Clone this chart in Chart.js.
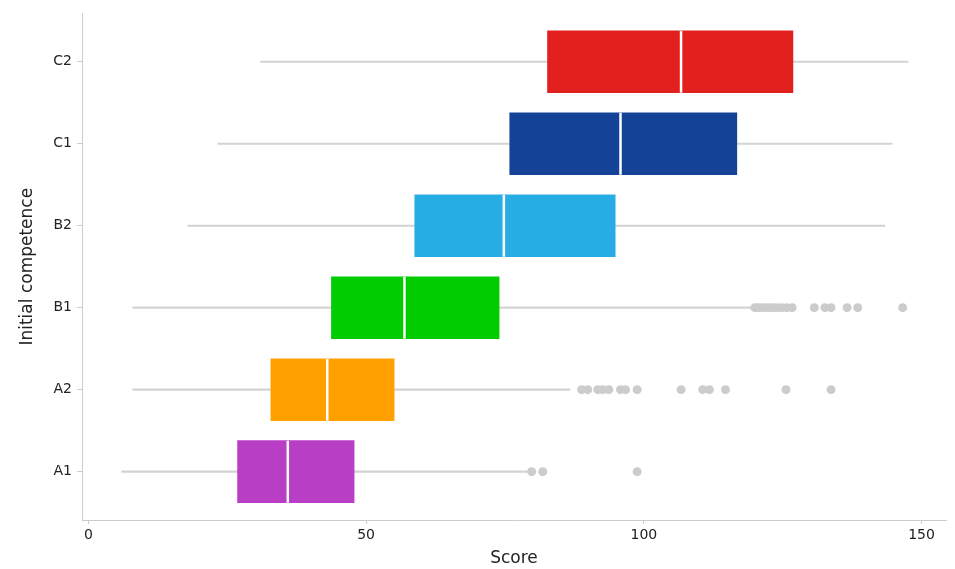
<!DOCTYPE html>
<html>
<head>
<meta charset="utf-8">
<script src="https://cdn.jsdelivr.net/npm/chart.js@4.4.1/dist/chart.umd.min.js"></script>
<style>
  html, body { margin: 0; padding: 0; background: #fff; }
  #wrap { width: 955px; height: 569px; }
</style>
</head>
<body>
<div id="wrap"><canvas id="myChart" width="955" height="569"></canvas></div>
<script>
// categories, bottom to top
var categories = ['A1', 'A2', 'B1', 'B2', 'C1', 'C2'];
var colors = ['#b93ec6', '#ffa000', '#00cc00', '#26ade3', '#134296', '#e2211e'];

// box plot stats
var whiskerLow  = [6.0, 8.0, 8.0, 17.9, 23.3, 31.0];
var q1          = [26.8, 32.8, 43.7, 58.7, 75.8, 82.6];
var median      = [35.9, 43.0, 56.9, 74.8, 95.8, 106.7];
var q3          = [47.9, 55.1, 74.0, 94.9, 116.8, 126.9];
var whiskerHigh = [79.0, 86.7, 119.6, 143.4, 144.7, 147.6];

// outliers per category
var outliersA1 = [79.8, 81.8, 98.8];
var outliersA2 = [88.8, 89.9, 91.7, 92.6, 93.7, 95.8, 96.7, 98.8, 106.7, 110.6, 111.8, 114.7, 125.6, 133.7];
var outliersB1 = [120.0, 120.6, 121.2, 122.0, 122.7, 123.4, 124.2, 125.0, 125.8, 126.7, 130.7, 132.6, 133.7, 136.6, 138.5, 146.6];

var xTicks = [0, 50, 100, 150];

var outlierPoints = [];
outliersA1.forEach(function (v) { outlierPoints.push({ x: v, y: 0 }); });
outliersA2.forEach(function (v) { outlierPoints.push({ x: v, y: 1 }); });
outliersB1.forEach(function (v) { outlierPoints.push({ x: v, y: 2 }); });

var whiskerData = categories.map(function (c, i) { return { y: i, x: [whiskerLow[i], whiskerHigh[i]] }; });
var boxData = categories.map(function (c, i) { return { y: i, x: [q1[i], q3[i]] }; });
var medianData = categories.map(function (c, i) { return { y: i, x: median[i] }; });

var fontFamily = "'DejaVu Sans', sans-serif";
var ctx = document.getElementById('myChart').getContext('2d');
var chart = new Chart(ctx, {
  type: 'bar',
  data: {
    datasets: [
      {
        type: 'scatter',
        data: outlierPoints,
        backgroundColor: '#cccccc',
        borderWidth: 0,
        pointRadius: 4.5,
        order: 1
      },
      {
        type: 'scatter',
        data: medianData,
        pointStyle: 'line',
        rotation: 90,
        pointRadius: 31,
        borderColor: '#ffffff',
        borderWidth: 2.5,
        order: 2
      },
      {
        data: boxData,
        backgroundColor: colors,
        borderWidth: 0,
        grouped: false,
        categoryPercentage: 1,
        barPercentage: 0.763,
        order: 3
      },
      {
        data: whiskerData,
        backgroundColor: '#d3d3d3',
        borderWidth: 0,
        grouped: false,
        barThickness: 1.5,
        order: 4
      }
    ]
  },
  options: {
    indexAxis: 'y',
    responsive: false,
    animation: false,
    layout: { autoPadding: false, padding: { top: 12, right: 9, left: 0, bottom: 0 } },
    plugins: {
      legend: { display: false },
      tooltip: { enabled: false }
    },
    scales: {
      x: {
        type: 'linear',
        min: -1.15,
        max: 154.4,
        afterBuildTicks: function (scale) {
          scale.ticks = xTicks.map(function (v) { return { value: v }; });
        },
        afterFit: function (scale) { scale.height = 49; },
        grid: { display: true, drawOnChartArea: false, color: '#cccccc', tickLength: 4 },
        border: { color: '#cccccc', width: 1 },
        ticks: { color: '#222', padding: 3, font: { family: fontFamily, size: 14 } },
        title: {
          display: true,
          text: 'Score',
          color: '#222',
          padding: { top: 0, bottom: 0 },
          font: { family: fontFamily, size: 17 }
        }
      },
      y: {
        type: 'linear',
        min: -0.59,
        max: 5.59,
        offset: false,
        afterBuildTicks: function (scale) {
          scale.ticks = categories.map(function (c, i) { return { value: i }; });
        },
        afterFit: function (scale) { scale.width = 82; },
        grid: { display: true, offset: false, drawOnChartArea: false, color: '#cccccc', tickLength: 5 },
        border: { color: '#cccccc', width: 1 },
        ticks: {
          color: '#222',
          padding: 5,
          font: { family: fontFamily, size: 14 },
          callback: function (value) { return categories[value]; }
        },
        title: {
          display: true,
          text: 'Initial competence',
          color: '#222',
          padding: { top: 17, bottom: 0 },
          font: { family: fontFamily, size: 17 }
        }
      }
    }
  }
});
</script>
</body>
</html>
